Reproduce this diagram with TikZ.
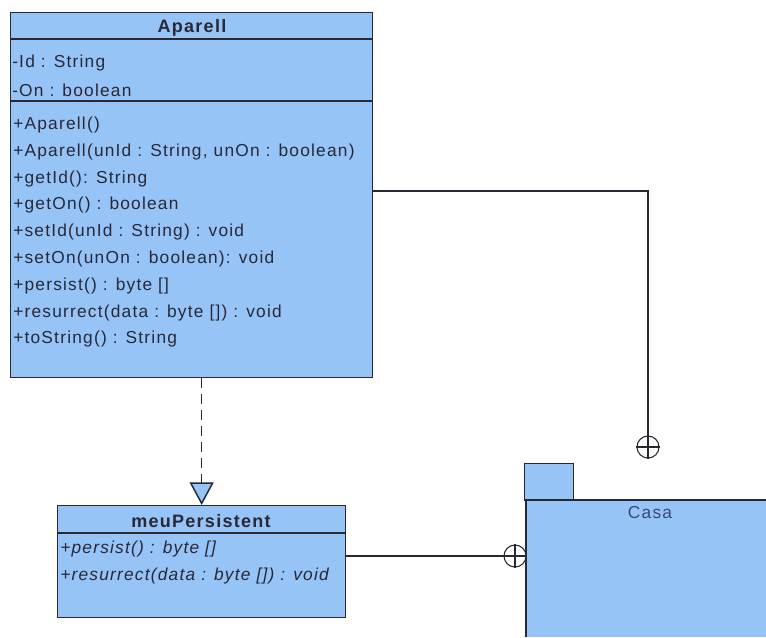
\documentclass[tikz,border=0pt]{standalone}
\usepackage{fontspec}
\setmainfont{Liberation Sans}
\newfontfamily\umlfont[LetterSpace=7]{Liberation Sans}
\usetikzlibrary{arrows.meta,positioning}
\definecolor{umlblue}{RGB}{150,196,246}
\definecolor{umlline}{RGB}{40,40,50}
\definecolor{umltext}{RGB}{40,40,55}
\definecolor{pkgtext}{RGB}{60,72,115}
\tikzset{
  classbox/.style={draw=umlline, line width=1pt, fill=umlblue, inner sep=0pt, anchor=north west},
  member/.style={anchor=west, inner sep=0pt, text=umltext, font=\umlfont\fontsize{13}{15}\selectfont},
  classname/.style={inner sep=0pt, text=umltext, font=\umlfont\bfseries\fontsize{13.5}{15}\selectfont},
  pin/.style={circle, draw=umlline, thick, minimum size=16.5pt, inner sep=0pt},
  link/.style={umlline, line width=1pt},
  realize/.style={umlline, line width=1.1pt, dash pattern=on 7.5pt off 4.5pt, -{Triangle[length=17pt,width=18pt,fill=umlblue]}},
}

\begin{document}
\begin{tikzpicture}[x=0.75pt,y=-0.75pt]
  \useasboundingbox (0,0) rectangle (766,637);
  \node[classbox, minimum width=271.5pt, minimum height=273.75pt] (aparell) at (10,12) {};
  \draw[link] (aparell.north west) ++(0,27) -- ++(362,0);
  \draw[link] (aparell.north west) ++(0,89) -- ++(362,0);
  \node[classname] (aparelltitle) at (192,28) {Aparell};
  \node[member] (attr1) at (12,63) {-Id : String};
  \node[member] (attr2) at (12,90) {-On : boolean};
  \foreach \txt [count=\i] in {{+Aparell()},{+Aparell(unId : String, unOn : boolean)},{+getId(): String},
    {+getOn() : boolean},{+setId(unId : String) : void},{+setOn(unOn : boolean): void},
    {+persist() : byte []},{+resurrect(data : byte []) : void},{+toString() : String}}
    \node[member] (op\i) at (13,{125+26.8*(\i-1)}) {\txt};

  \node[classbox, minimum width=216pt, minimum height=84pt] (meu) at (57,505) {};
  \draw[link] (meu.north west) ++(0,28) -- ++(288,0);
  \node[classname] (meutitle) at (201,521) {meuPersistent};
  \node[member, font=\umlfont\itshape\fontsize{13}{15}\selectfont] (meuop1) at (60,549) {+persist() : byte []};
  \node[member, font=\umlfont\itshape\fontsize{13}{15}\selectfont] (meuop2) at (60,576) {+resurrect(data : byte []) : void};

  \node[classbox, minimum width=36.75pt, minimum height=27.75pt] (tab) at (524,463) {};
  \fill[umlblue] (526,500) rectangle (766,637);
  \draw[link] (766,500) -- (526,500) -- (526,637);
  \node[inner sep=0pt, text=pkgtext, font=\umlfont\fontsize{13}{15}\selectfont] (casa) at (650,513) {Casa};

  \node[pin] (pin1) at (648,447) {};
  \node[pin] (pin2) at (515,556) {};
  \coordinate (bend) at (648,191);
  \draw[link] (aparell.east |- bend) -- (bend) -- (pin1.south);
  \draw[link] (pin1.west) -- (pin1.east);
  \draw[link] (meu.east |- pin2) -- (pin2.east);
  \draw[link] (pin2.north) -- (pin2.south);

  \draw[realize] (aparell.south -| meu.north) -- (meu.north);
\end{tikzpicture}
\end{document}
